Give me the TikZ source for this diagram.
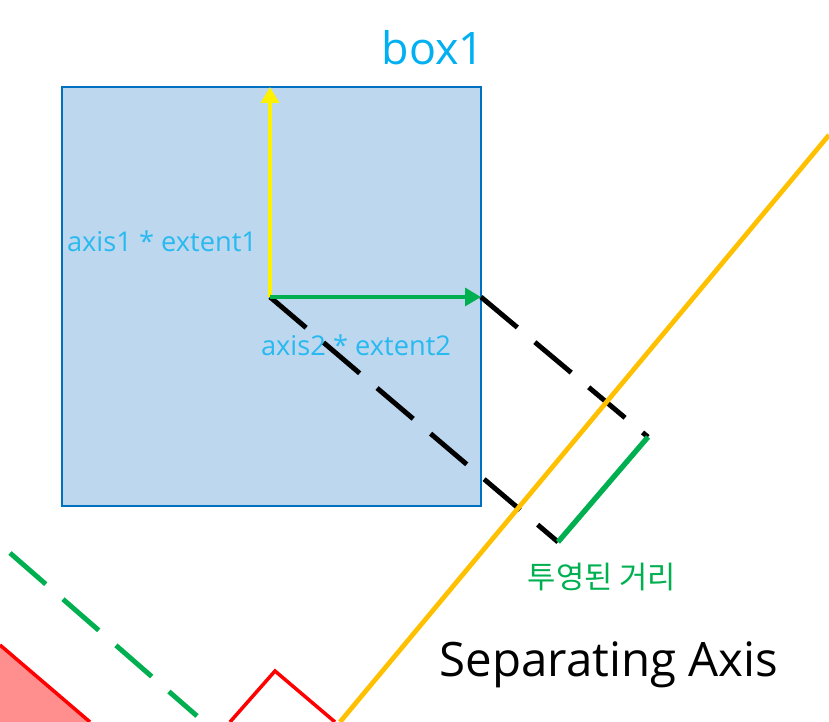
\documentclass[tikz,border=0pt]{standalone}
\usepackage{fontspec}
\setmainfont{Open Sans}
\newfontfamily\kofont{Noto Sans CJK KR}
\usetikzlibrary{arrows.meta,positioning}
\definecolor{boxfill}{RGB}{189,215,238}
\definecolor{boxline}{RGB}{0,112,192}
\definecolor{titleblue}{RGB}{0,176,240}
\definecolor{labblue}{RGB}{40,185,240}
\definecolor{sepgreen}{RGB}{0,176,80}
\definecolor{axisorange}{RGB}{255,192,0}
\definecolor{shapered}{RGB}{255,0,0}
\definecolor{shapepink}{RGB}{255,143,143}

\begin{document}
\begin{tikzpicture}[x=0.02cm, y=-0.02cm,
      lab/.style={font=\fontsize{15.5}{18}\selectfont, text=labblue},
      vec/.style={line width=2.8pt, -{Triangle[length=9pt, width=10pt]}},
      proj/.style={line width=2.8pt, dash pattern=on 27pt off 13pt}]
    \useasboundingbox (0,0) rectangle (829,722);
    % red shapes at the bottom
    \fill[shapepink] (0,645) -- (90,722) -- (0,722) -- cycle;
    \draw[shapered, line width=2pt] (0,645) -- (90,722);
    \draw[shapered, line width=2pt] (230,722) -- (275,671) -- (335,722);
    % box1
    \node[draw=boxline, fill=boxfill, line width=1.3pt, minimum width=8.38cm, minimum height=8.38cm, inner sep=0pt] (box) at (271.5,296.5) {};
    \node[font=\fontsize{25.5}{30}\selectfont, text=titleblue] (title) at (433,48) {box1};
    \coordinate (o) at (270,297);
    \coordinate (a1) at (270,87);
    \coordinate (a2) at (481,297);
    \coordinate (p1) at (558,542);
    \coordinate (p2) at (648,437);
    % projection
    \draw[proj] (o) -- (p1);
    \draw[proj] (a2) -- (p2);
    \draw[sepgreen, line width=3pt] (p1) -- (p2);
    \draw[vec, yellow] (o) -- (a1);
    \draw[vec, sepgreen] (o) -- (a2);
    \node[lab] (ext1) at (162,241) {axis1 * extent1};
    \node[lab] (ext2) at (356,345) {axis2 * extent2};
    % separating axis
    \coordinate (s1) at (829,135);
    \coordinate (s2) at (340,722);
    \draw[axisorange, line width=2.7pt] (s1) -- (s2);
    \coordinate (g1) at (10,553);
    \coordinate (g2) at (197,716);
    \draw[sepgreen, proj] (g1) -- (g2);
    \node[font=\kofont\fontsize{17.5}{20}\selectfont, text=sepgreen] (dist) at (602,577) {투영된 거리};
    \node[font=\fontsize{27}{32}\selectfont] (sep) at (609,665) {Separating Axis};
  \end{tikzpicture}
\end{document}
